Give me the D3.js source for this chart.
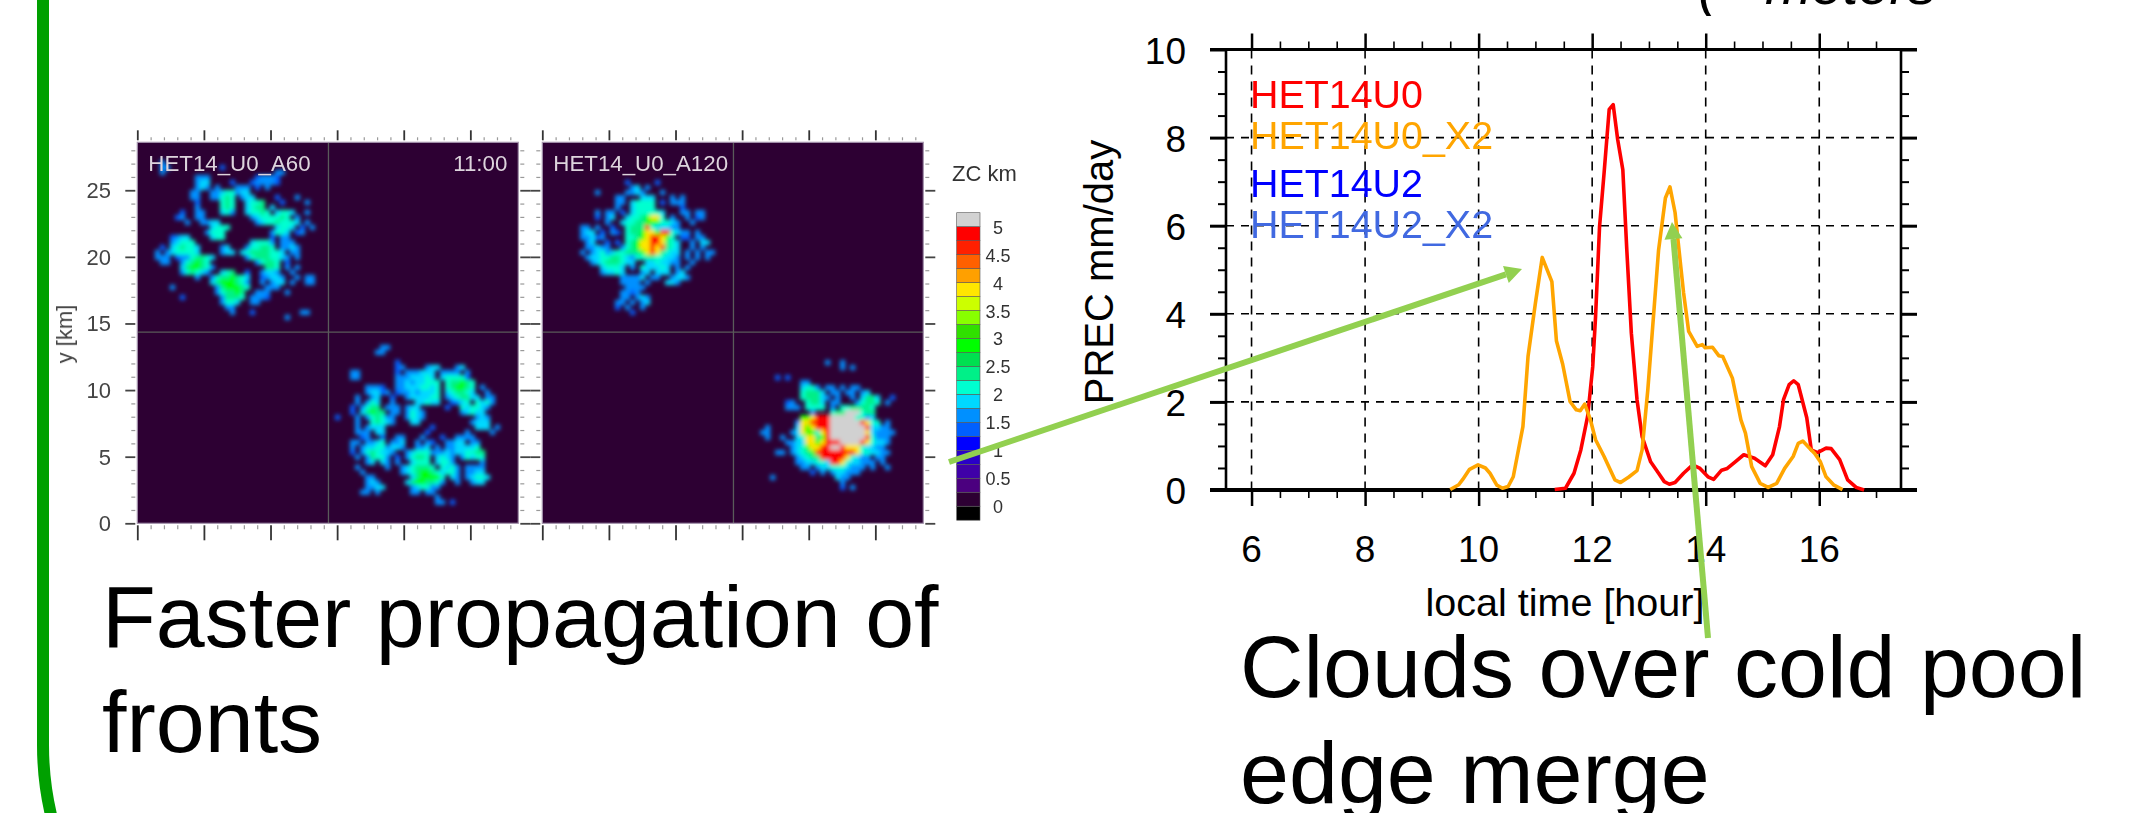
<!DOCTYPE html>
<html><head><meta charset="utf-8">
<script src="https://cdnjs.cloudflare.com/ajax/libs/d3/7.8.5/d3.min.js"></script>
<style>html,body{margin:0;padding:0;background:#fff}svg{display:block}text{font-family:"Liberation Sans",Arial,sans-serif}</style>
</head><body><svg id="c" width="2140" height="813"></svg>
<script>
// ---------- line chart data ----------
const seriesNames = ["HET14U0","HET14U0_X2","HET14U2","HET14U2_X2"];
const seriesColors = ["#ff0000","#ffa500","#0000ff","#4169e1"];
const redHours = [11.34,11.53,11.68,11.80,11.92,12.01,12.06,12.13,12.21,12.30,12.37,12.45,12.54,12.61,12.69,12.79,12.88,13.03,13.17,13.27,13.36,13.46,13.61,13.77,13.90,14.04,14.14,14.28,14.38,14.52,14.67,14.86,15.05,15.18,15.30,15.37,15.47,15.55,15.63,15.78,15.86,15.97,16.12,16.21,16.36,16.50,16.65,16.79];
const redPrec = [0.01,0.04,0.38,0.91,1.67,2.80,3.94,5.98,7.20,8.64,8.75,7.95,7.27,5.45,3.56,2.05,1.21,0.64,0.38,0.19,0.13,0.17,0.38,0.57,0.49,0.30,0.24,0.45,0.49,0.64,0.80,0.72,0.55,0.80,1.44,2.05,2.39,2.48,2.39,1.64,0.91,0.85,0.95,0.94,0.69,0.23,0.06,0.0];
const orangeHours = [9.50,9.65,9.72,9.84,9.99,10.12,10.20,10.32,10.42,10.52,10.61,10.78,10.87,11.00,11.12,11.29,11.37,11.48,11.61,11.72,11.79,11.87,11.97,12.06,12.21,12.40,12.50,12.64,12.79,12.88,12.98,13.08,13.17,13.29,13.37,13.46,13.56,13.61,13.70,13.85,13.94,13.99,14.12,14.23,14.30,14.47,14.62,14.70,14.81,14.96,15.10,15.25,15.39,15.54,15.63,15.71,15.83,15.92,16.02,16.12,16.26,16.41];
const orangePrec = [0.01,0.12,0.24,0.47,0.57,0.50,0.38,0.11,0.04,0.08,0.30,1.44,3.03,4.24,5.28,4.73,3.39,2.86,2.01,1.82,1.80,1.95,1.59,1.14,0.76,0.23,0.17,0.29,0.44,0.91,2.27,3.94,5.45,6.63,6.88,6.30,5.08,4.48,3.60,3.26,3.30,3.23,3.24,3.05,3.03,2.54,1.59,1.29,0.53,0.15,0.06,0.15,0.49,0.76,1.06,1.11,0.95,0.83,0.64,0.30,0.11,0.01];
const hourTicks = [6,8,10,12,14,16];
const hourMinor = [6.5,7,7.5,8.5,9,9.5,10.5,11,11.5,12.5,13,13.5,14.5,15,15.5,16.5,17];
const precTicks = [0,2,4,6,8,10];
const precMinor = [0.5,1,1.5,2.5,3,3.5,4.5,5,5.5,6.5,7,7.5,8.5,9,9.5];

// ---------- cloud-top panels ----------
const zcBounds = [0,.25,.5,.75,1,1.25,1.5,1.75,2,2.25,2.5,2.75,3,3.25,3.5,3.75,4,4.25,4.5,4.75,5];
const zcColors = ["#000000","#2d0033","#4b007f","#3f00a8","#2a00c8","#0000ff","#0060ff","#0090ff","#00d8ff","#00ffd0","#00f088","#00e050","#00ff00","#30e000","#88ff00","#ccff00","#ffe600","#ffa000","#ff6000","#ff2000","#ff0000","#d2d2d2"];
const zcLabels = [0,0.5,1,1.5,2,2.5,3,3.5,4,4.5,5];
const zcByCode = {"1":1.25,"2":1.5,"3":1.6,"4":1.8,"5":2.1,"6":2.4,"7":2.9,"8":3.8,"9":4.8,"G":5.2};
const kmTicks = [0,5,10,15,20,25];
const kmLabels = ["0","5","10","15","20","25"];
const kmMinor = [1,2,3,4,6,7,8,9,11,12,13,14,16,17,18,19,21,22,23,24,26,27,28];
const CROSS_KM = 14.35, CELL_KM = 0.375;

const cloudA60NW = [
".3..............................",
".33..........1..................",
".3......................33......",
"........233.........12331.......",
"........344....1...123321.......",
"........343.2...332.1.2.........",
".......22..22455344.............",
".......22..22565.344....1...2...",
"........1....565..4556...1....2.",
"........2....565..4566.4........",
".....1..23...453..45565.4554..2.",
"....12..33.........34555565.2...",
"......2..2344.......345565554.3.",
"...........4555.........4554.1.3",
"..........3555.........3554.12..",
"...1344....455.........1.33.....",
"...34555...........45552.233....",
".1.456554....34...355665.2342...",
"2.3455554....344.456666554.33...",
"233.13356654......356665543.2...",
".33..356765.........35665.1.....",
".....4677652..........665.2.3...",
".....356543..456..1..3442..3....",
"........3..35667654..13443..2.33",
"...........46777653..2.344.2..33",
"...2........3677765...233.......",
"............356676..233...3.....",
".....1.......36665.2331.........",
".............3554..23...........",
"..............33................",
"...............2...1.........33.",
"..........................3....."];

const cloudA60SE = [
".........33.....................",
"........33......................",
"................................",
"............1...................",
"............12....344...34......",
"...22.......1.233444.3333.2.....",
"...33.......33344454.455551.....",
"............334344555.566765....",
"......3331..334445545.567765.2..",
"......34412.133434445.456654..3.",
"....2..34..1..3444455.2456644.33",
"....2.354..3....44544..1345.5453",
"...1.3566.333.344.....1..545543.",
"...1.46766.33.3543.......34544..",
"1...2.356533..3543..........343.",
"....2..56543...44..........3444.",
"....2.3444.........1........444.2",
"....323.44........1.......3....3",
".....12..1..33...3...1..2333....",
"...22.3345.334..3.31..2344.33...",
"...2.344553443..334.3.2344445...",
"...1.3565443..3455523343445566..",
"....2.36553.1.35665.4543.25455..",
"......34.43.2..4555.4553.....2..",
"....3.....2..2456665.5453.3333..",
".....3.......345677654553.3344..",
"......33.......4677775.43.34554.",
"......343.....46776653..3..244..",
"......2344.....345532...........",
".....23.3......23.23............",
"....................3...........",
"....................23.1........"];

const cloudA120NW = [
"............................",
"...........1.....1..........",
"............34.3............",
".....2.....2343...3.........",
".........33...444...2.2.....",
".........33.45555.1.333.....",
".........2..45555.....1.....",
".....2.33.1.4555554...23.22.",
".....1.34..45567885.3..2.12.",
".......3..455667775543..2...",
"..33.2..1..56669544432......",
"..344.1.21.5667887995422.3..",
"..33412....5567899875.11.33.",
"...34..1.1.56788998654..2.44",
"...33432..356788989654..3.3.",
"..2.345345566678986544.3.2.22",
"...3445566543556655443.2.3.2",
"....345666544..4454433..3...",
"......45554.3.544454.3.3....",
"......34454...34.444.34.....",
"..........23334.33..3443....",
"..........3332.2...443......",
"...........2333.............",
"..........3312..............",
"..........33.342............",
".........33.2.34............",
".........1.2..2.............",
"............1..............."];

const cloudA120SE = [
"...............3..3.........",
"..................3.3.......",
"............................",
".....1.1....................",
"..........33................",
"..........4553.33.3.23......",
"..........56664.33.33.34....",
"..........566643.3..3.4664..1",
".......12..5664.33...35665.2",
".......233.5555.3.5566665...",
"............3...566GGG566...",
"..........778999GGGGG5534...",
".........3889999GGGGGG9855.3",
"...3.....4878999GGGGGGG94433",
"..33....34877589GGGGGGG843333",
"...3..2..4588679GGGGGGG95333",
".......33448878999GGGG985443",
"........34578899GG988854433.",
".....23.34567999999998554433",
".........345669999985433.33.",
".........2344554998544333.3.",
"..........32.3445554333.2..3",
"............1.2.344333......",
"....2............433........",
"..................2.........",
"..................1.3.......",
"............................",
"............................"];

const panels = [
 {title:"HET14_U0_A60", time:"11:00", left:137.3, labels:true,
  clouds:[{cells:cloudA60NW,x0:1.32,y0:27.28},{cells:cloudA60SE,x0:14.84,y0:13.4}]},
 {title:"HET14_U0_A120", time:"", left:542.3, labels:false,
  clouds:[{cells:cloudA120NW,x0:2.08,y0:26.15},{cells:cloudA120SE,x0:15.6,y0:12.26}]}
];

// ---------- annotation text ----------
const noteLeft = ["Faster propagation of","fronts"];
const noteRight = ["Clouds over cold pool","edge merge"];

const svg = d3.select("#c");
const ink = "#000";

// green frame
svg.append("path").attr("d","M43,-10 L43,745 Q43,785 53,823").attr("fill","none").attr("stroke","#00a000").attr("stroke-width",12);

// partial heading cut off by the top of the slide
svg.append("text").attr("x",1698).attr("y",4).attr("font-size",56).attr("font-style","italic").text("(~ meters");

// ---------- cloud panels ----------
const PANEL = 381, TOP = 142.3;
const zcColor = d3.scaleThreshold().domain(zcBounds).range(zcColors);
const defs = svg.append("defs");
const soft = defs.append("filter").attr("id","soft").attr("filterUnits","userSpaceOnUse").attr("x",100).attr("y",100).attr("width",900).attr("height",450);
soft.append("feGaussianBlur").attr("stdDeviation",2.1);
defs.append("filter").attr("id","softText").append("feGaussianBlur").attr("stdDeviation",0.35);

panels.forEach((p,i)=>{
  const x = d3.scaleLinear().domain([0,28.6]).range([p.left,p.left+PANEL]);
  const y = d3.scaleLinear().domain([0,28.6]).range([TOP+PANEL,TOP]);
  const g = svg.append("g");
  const clipId = "clip"+i;
  defs.append("clipPath").attr("id",clipId).append("rect").attr("x",p.left).attr("y",TOP).attr("width",PANEL).attr("height",PANEL);
  g.append("rect").attr("x",p.left).attr("y",TOP).attr("width",PANEL).attr("height",PANEL).attr("fill",zcColor(0));
  const cl = g.append("g").attr("clip-path",`url(#${clipId})`).append("g").attr("filter","url(#soft)");
  // the blur mixes with the panel background rather than with transparency
  p.clouds.forEach(c=>{
    c.cells.forEach((row,r)=>{
      row.split("").forEach((ch,k)=>{
        const v = zcByCode[ch];
        if(v===undefined) return;
        cl.append("rect")
          .attr("x",x(c.x0+k*CELL_KM)).attr("y",y(c.y0-r*CELL_KM))
          .attr("width",x(CELL_KM)-x(0)+0.3).attr("height",y(0)-y(CELL_KM)+0.3)
          .attr("fill",zcColor(v));
      });
    });
  });
  g.append("line").attr("x1",x(CROSS_KM)).attr("x2",x(CROSS_KM)).attr("y1",TOP).attr("y2",TOP+PANEL).attr("stroke","#5a5a5a").attr("stroke-width",1.3);
  g.append("line").attr("x1",p.left).attr("x2",p.left+PANEL).attr("y1",y(CROSS_KM)).attr("y2",y(CROSS_KM)).attr("stroke","#5a5a5a").attr("stroke-width",1.3);
  g.append("rect").attr("x",p.left).attr("y",TOP).attr("width",PANEL).attr("height",PANEL).attr("fill","none").attr("stroke","#a594ad").attr("stroke-width",1.2);

  const styleAxis = (a,w,col)=>{a.select(".domain").remove();a.selectAll(".tick line").attr("stroke",col).attr("stroke-width",w);a.selectAll(".tick text").remove();};
  const xAxis=(gen,yy,ticks,len,w,col)=>{const a=g.append("g").attr("transform",`translate(0,${yy})`).call(gen(x).tickValues(ticks).tickSize(len).tickFormat(""));styleAxis(a,w,col);};
  const yAxis=(gen,xx,ticks,len,w,col)=>{const a=g.append("g").attr("transform",`translate(${xx},0)`).call(gen(y).tickValues(ticks).tickSize(len).tickFormat(""));styleAxis(a,w,col);};
  xAxis(d3.axisTop,TOP-2,kmTicks,10,1.8,"#333"); xAxis(d3.axisTop,TOP-2,kmMinor,3,1.2,"#999");
  xAxis(d3.axisBottom,TOP+PANEL+2,kmTicks,15,1.8,"#333"); xAxis(d3.axisBottom,TOP+PANEL+2,kmMinor,4,1.2,"#999");
  yAxis(d3.axisLeft,p.left-2,kmTicks,10,1.8,"#444"); yAxis(d3.axisLeft,p.left-2,kmMinor,4,1.2,"#999");
  yAxis(d3.axisRight,p.left+PANEL+2,kmTicks,10,1.8,"#444"); yAxis(d3.axisRight,p.left+PANEL+2,kmMinor,4,1.2,"#999");

  const t = g.append("g").attr("filter","url(#softText)");
  t.append("text").attr("x",p.left+11).attr("y",171).attr("font-size",22.3).attr("fill","#ddd4dd").text(p.title);
  if(p.time) t.append("text").attr("x",p.left+PANEL-11).attr("y",171).attr("text-anchor","end").attr("font-size",22.3).attr("fill","#ddd4dd").text(p.time);
  if(p.labels){
    kmTicks.forEach((k,j)=>t.append("text").attr("x",111).attr("y",y(k)+8).attr("text-anchor","end").attr("font-size",22).attr("fill","#444").text(kmLabels[j]));
    t.append("text").attr("transform",`translate(72,${y(CROSS_KM)+2}) rotate(-90)`).attr("text-anchor","middle").attr("font-size",22).attr("fill","#444").text("y [km]");
  }
});

// colour bar
const CB_TOP = 212.7, CB_H = 307.5;
const cellH = CB_H/zcColors.length;
const cb = svg.append("g");
const cbY = d3.scaleLinear().domain([5,0]).range([CB_TOP+cellH,CB_TOP+cellH*21]);
zcColors.forEach((c,i)=>{
  cb.append("rect").attr("x",956.7).attr("width",23.3).attr("y",CB_TOP+cellH*(zcColors.length-1-i)).attr("height",cellH)
    .attr("fill",c).attr("stroke","#555").attr("stroke-width",.6);
});
const cbt = cb.append("g").attr("filter","url(#softText)");
zcLabels.forEach(v=>cbt.append("text").attr("x",998).attr("y",cbY(v)+7).attr("text-anchor","middle").attr("font-size",18).attr("fill","#333").text(v));
cbt.append("text").attr("x",952).attr("y",181).attr("font-size",22).attr("fill","#333").text("ZC km");

// ---------- line chart ----------
const L=1226,R=1901,T=49.5,B=490;
const xH = d3.scaleLinear().domain([5.55,17.44]).range([L,R]);
const yP = d3.scaleLinear().domain([0,10]).range([B,T]);
const lc = svg.append("g");
const clean=a=>{a.select(".domain").remove();a.selectAll(".tick line").attr("stroke",ink);};
// grid
lc.append("g").selectAll("line").data(hourTicks).join("line")
  .attr("x1",d=>xH(d)).attr("x2",d=>xH(d)).attr("y1",T).attr("y2",B)
  .attr("stroke",ink).attr("stroke-width",1.6).attr("stroke-dasharray","9 7");
lc.append("g").selectAll("line").data(precTicks.slice(1,-1)).join("line")
  .attr("x1",L).attr("x2",R).attr("y1",d=>yP(d)).attr("y2",d=>yP(d))
  .attr("stroke",ink).attr("stroke-width",1.6).attr("stroke-dasharray","8 7");
// axes
[[d3.axisBottom,B],[d3.axisTop,T]].forEach(([gen,yy])=>{
  let a=lc.append("g").attr("transform",`translate(0,${yy})`).call(gen(xH).tickValues(hourTicks).tickSize(16).tickFormat(""));clean(a);a.selectAll(".tick line").attr("stroke-width",2.5);
  a=lc.append("g").attr("transform",`translate(0,${yy})`).call(gen(xH).tickValues(hourMinor).tickSize(8).tickFormat(""));clean(a);a.selectAll(".tick line").attr("stroke-width",1.6);
});
[[d3.axisLeft,L],[d3.axisRight,R]].forEach(([gen,xx])=>{
  let a=lc.append("g").attr("transform",`translate(${xx},0)`).call(gen(yP).tickValues(precTicks).tickSize(16).tickFormat(""));clean(a);a.selectAll(".tick line").attr("stroke-width",3);
  a=lc.append("g").attr("transform",`translate(${xx},0)`).call(gen(yP).tickValues(precMinor).tickSize(8).tickFormat(""));clean(a);a.selectAll(".tick line").attr("stroke-width",2);
});
lc.append("rect").attr("x",L).attr("y",T).attr("width",R-L).attr("height",B-T).attr("fill","none").attr("stroke",ink).attr("stroke-width",2.6);
lc.append("line").attr("x1",L-16).attr("x2",R+16).attr("y1",B).attr("y2",B).attr("stroke",ink).attr("stroke-width",4);
lc.append("line").attr("x1",L-16).attr("x2",R+16).attr("y1",T).attr("y2",T).attr("stroke",ink).attr("stroke-width",3);
hourTicks.forEach(h=>lc.append("text").attr("x",xH(h)).attr("y",562).attr("text-anchor","middle").attr("font-size",37).text(h));
precTicks.forEach(v=>lc.append("text").attr("x",1186).attr("y",yP(v)+14).attr("text-anchor","end").attr("font-size",37).text(v));
lc.append("text").attr("x",1565).attr("y",616).attr("text-anchor","middle").attr("font-size",39.5).text("local time [hour]");
lc.append("text").attr("transform",`translate(1113,272) rotate(-90)`).attr("text-anchor","middle").attr("font-size",40).text("PREC mm/day");
[108,149,197,238].forEach((yy,i)=>lc.append("text").attr("x",1250).attr("y",yy).attr("font-size",39.4).attr("fill",seriesColors[i]).text(seriesNames[i]));
const line = d3.line().x(d=>xH(d[0])).y(d=>yP(d[1]));
lc.append("path").datum(d3.zip(redHours,redPrec)).attr("d",line).attr("fill","none").attr("stroke",seriesColors[0]).attr("stroke-width",3.6).attr("stroke-linejoin","round");
lc.append("path").datum(d3.zip(orangeHours,orangePrec)).attr("d",line).attr("fill","none").attr("stroke",seriesColors[1]).attr("stroke-width",3.6).attr("stroke-linejoin","round");

// ---------- notes and arrows ----------
const noteG = svg.append("g");
noteLeft.forEach((s,i)=>noteG.append("text").attr("x",102).attr("y",647+i*105).attr("font-size",88).text(s));
noteRight.forEach((s,i)=>noteG.append("text").attr("x",1240).attr("y",697+i*106).attr("font-size",88).text(s));
function arrow(x1,y1,x2,y2){
  const a=Math.atan2(y2-y1,x2-x1), h=17, w=9;
  const bx=x2-h*Math.cos(a), by=y2-h*Math.sin(a);
  noteG.append("line").attr("x1",x1).attr("y1",y1).attr("x2",bx).attr("y2",by).attr("stroke","#92d050").attr("stroke-width",6);
  noteG.append("polygon").attr("fill","#92d050").attr("points",[[x2,y2],[bx+w*Math.sin(a),by-w*Math.cos(a)],[bx-w*Math.sin(a),by+w*Math.cos(a)]].join(" "));
}
arrow(949,462,1522,269);
arrow(1708,638,1672,222);
</script></body></html>
